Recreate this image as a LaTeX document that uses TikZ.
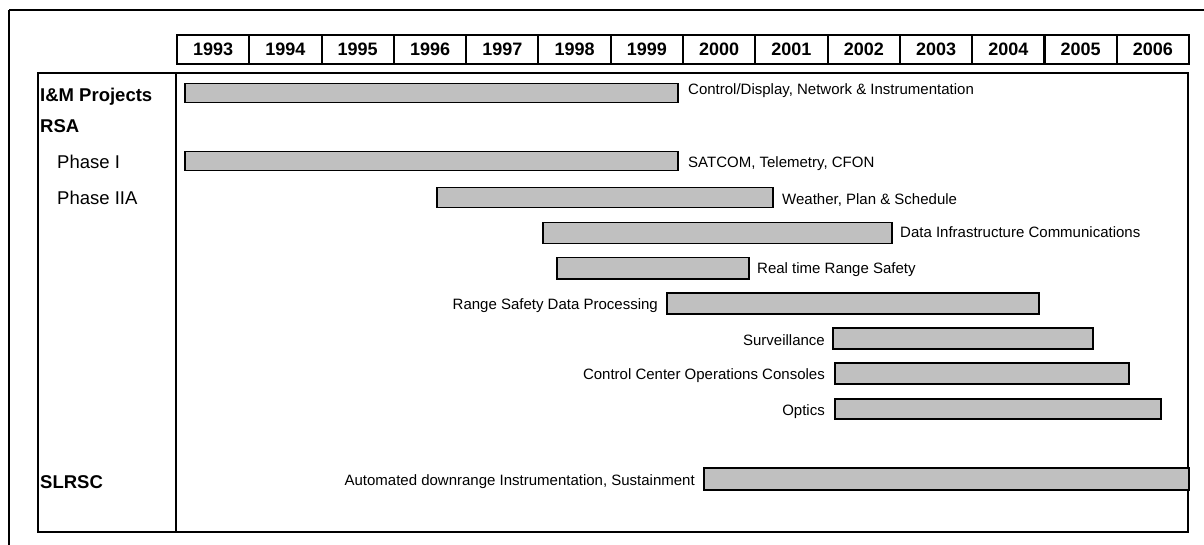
\documentclass[tikz,border=0pt]{standalone}
\usepackage{fontspec}
\setmainfont{Liberation Sans}
\begin{document}
\begin{tikzpicture}[x=1pt,y=-1pt,
  frameline/.style={line width=2pt},
  yearbox/.style={draw, line width=2pt, minimum width=72.3pt, minimum height=29pt, anchor=north west, inner sep=0pt, font=\fontsize{18}{20}\selectfont\bfseries, text height=12.9pt, text depth=0pt},
  rowlbl/.style={anchor=west, inner sep=0pt, font=\fontsize{18.5}{20}\selectfont\bfseries, text height=13.2pt, text depth=0pt},
  phaselbl/.style={anchor=west, inner sep=0pt, font=\fontsize{18.5}{20}\selectfont, text height=13.2pt, text depth=0pt},
  bar/.style={draw, line width=1.5pt, fill=barfill, anchor=north west, inner sep=0pt},
  lbl/.style={inner sep=0pt, font=\fontsize{15}{17}\selectfont, text height=10.7pt, text depth=0pt}
]
\definecolor{barfill}{HTML}{C0C0C0}
\useasboundingbox (0,0) rectangle (1204,545);
% outer frame
\draw[frameline] (9,10) -- (1204,10);
\draw[frameline] (9,10) -- (9,545);
% year header
\foreach \yr [count=\k from 0] in {1993,1994,1995,1996,1997,1998,1999,2000,2001,2002,2003,2004,2005,2006}
  \node[yearbox] (y\yr) at ({176+\k*72.29},34) {\yr};
% table
\draw[frameline] (38,73) rectangle (1188,532);
\draw[frameline] (176,73) -- (176,532);
% row labels
\node[rowlbl] (rim) at (40,95) {I\&M Projects};
\node[rowlbl] (rrsa) at (40,126) {RSA};
\node[phaselbl] (rp1) at (57,162) {Phase I};
\node[phaselbl] (rp2) at (57,198) {Phase IIA};
\node[rowlbl] (rsl) at (40,482) {SLRSC};
% bars
\node[bar, minimum width=493pt, minimum height=19pt] (b1) at (184,83) {};
\node[bar, minimum width=493pt, minimum height=19pt] (b2) at (184,151) {};
\node[bar, minimum width=336pt, minimum height=20pt] (b3) at (436,187) {};
\node[bar, minimum width=349pt, minimum height=21pt] (b4) at (542,222) {};
\node[bar, minimum width=192pt, minimum height=21pt] (b5) at (556,257) {};
\node[bar, minimum width=372pt, minimum height=21pt] (b6) at (666,292) {};
\node[bar, minimum width=260pt, minimum height=21pt] (b7) at (832,327) {};
\node[bar, minimum width=294pt, minimum height=21pt] (b8) at (834,362) {};
\node[bar, minimum width=326pt, minimum height=20pt] (b9) at (834,398) {};
\node[bar, minimum width=485pt, minimum height=22pt] (b10) at (703,467) {};
% bar labels
\node[lbl, anchor=west] (l1) at (688,89) {Control/Display, Network \& Instrumentation};
\node[lbl, anchor=west] (l2) at (688,162) {SATCOM, Telemetry, CFON};
\node[lbl, anchor=west] (l3) at (782,199) {Weather, Plan \& Schedule};
\node[lbl, anchor=west] (l4) at (900,232) {Data Infrastructure Communications};
\node[lbl, anchor=west] (l5) at (757,268) {Real time Range Safety};
\node[lbl, anchor=east] (l6) at (658,304) {Range Safety Data Processing};
\node[lbl, anchor=east] (l7) at (825,340) {Surveillance};
\node[lbl, anchor=east] (l8) at (825,374) {Control Center Operations Consoles};
\node[lbl, anchor=east] (l9) at (825,410) {Optics};
\node[lbl, anchor=east] (l10) at (695,480) {Automated downrange Instrumentation, Sustainment};
\end{tikzpicture}
\end{document}
